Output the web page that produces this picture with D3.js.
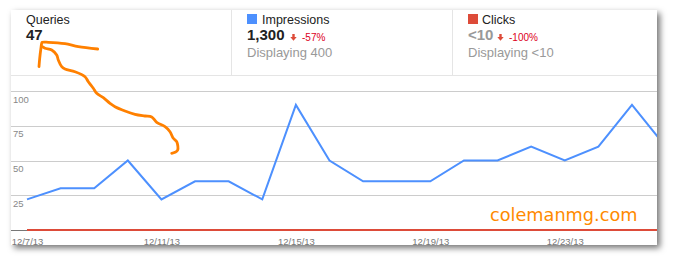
<!DOCTYPE html>
<html>
<head>
<meta charset="utf-8">
<script src="https://cdn.jsdelivr.net/npm/d3@7"></script>
<style>
  body { margin: 0; background: #fff; }
  svg { display: block; font-family: "Liberation Sans", Arial, sans-serif; }
</style>
</head>
<body>
<script>
// data
var dates = ["12/7/13", "12/8/13", "12/9/13", "12/10/13", "12/11/13", "12/12/13", "12/13/13",
             "12/14/13", "12/15/13", "12/16/13", "12/17/13", "12/18/13", "12/19/13", "12/20/13",
             "12/21/13", "12/22/13", "12/23/13", "12/24/13", "12/25/13", "12/26/13"];
var impressions = [22, 30, 30, 50, 22, 35, 35, 22, 90, 50, 35, 35, 35, 50, 50, 60, 50, 60, 90, 60];
var clicks = [0, 0, 0, 0, 0, 0, 0, 0, 0, 0, 0, 0, 0, 0, 0, 0, 0, 0, 0, 0];
var xTickLabels = ["12/7/13", "12/11/13", "12/15/13", "12/19/13", "12/23/13"];
var yTicks = [25, 50, 75, 100];

// header metrics
var queriesTotal = "47";
var impressionsTotal = "1,300";
var impressionsChange = "-57%";
var impressionsShown = "Displaying 400";
var clicksTotal = "<10";
var clicksChange = "-100%";
var clicksShown = "Displaying <10";

// hand drawn annotation strokes
var scribble1 = [[39, 66.7], [39.7, 58.3], [41, 47.7], [41.7, 43.3], [42.3, 42.3], [48.3, 42.3],
                 [65, 43.7], [78.3, 46.7], [97.7, 49]];
var scribble2 = [[42.3, 46.7], [45, 48.3], [51.7, 50], [56.7, 55], [58.3, 60], [61.7, 66.7], [65, 69],
                 [75, 71.7], [85, 76.7], [88.3, 81.7], [93.3, 88.3], [96.7, 93.3], [103.3, 97.7],
                 [110, 103.3], [115, 106.7], [125, 111], [135, 114.3], [145, 116], [151.7, 117],
                 [156.7, 122.3], [165, 126.7], [170, 131.7], [173.3, 138.3], [176.7, 141.7],
                 [177.7, 150], [175, 152.3], [171.7, 153.3]];

var width = 676, height = 265;
var panel = {x: 11, y: 10, w: 646, h: 235};
var blue = "#4d90fe", red = "#dd4b39";

var parse = d3.utcParse("%m/%d/%y");
var days = dates.map(parse);

var svg = d3.select("body").append("svg")
    .attr("width", width)
    .attr("height", height);

var defs = svg.append("defs");
var shadow = defs.append("filter").attr("id", "shadow")
    .attr("x", "-5%").attr("y", "-10%").attr("width", "110%").attr("height", "125%");
shadow.append("feDropShadow")
    .attr("dx", 3).attr("dy", 3).attr("stdDeviation", 3)
    .attr("flood-color", "#000").attr("flood-opacity", 0.55);
defs.append("clipPath").attr("id", "clip")
  .append("rect")
    .attr("x", panel.x).attr("y", panel.y)
    .attr("width", panel.w).attr("height", panel.h);

svg.append("rect")
    .attr("x", panel.x).attr("y", panel.y)
    .attr("width", panel.w).attr("height", panel.h)
    .attr("fill", "#fff")
    .attr("filter", "url(#shadow)");

// header
var head = svg.append("g");
head.append("line")
    .attr("x1", panel.x).attr("x2", panel.x + panel.w)
    .attr("y1", 75.5).attr("y2", 75.5)
    .attr("stroke", "#e5e5e5");
[231.5, 452.5].forEach(function (x) {
  head.append("line")
      .attr("x1", x).attr("x2", x)
      .attr("y1", panel.y).attr("y2", 75)
      .attr("stroke", "#e5e5e5");
});

function downArrow(x, y) {
  head.append("path")
      .attr("d", "M" + (x + 1.8) + "," + y + "h2.4v3h2l-3.2,3.8l-3.2,-3.8h2z")
      .attr("fill", red);
}

head.append("text").attr("x", 26).attr("y", 24)
    .attr("font-size", 12.5).attr("fill", "#222").text("Queries");
head.append("text").attr("x", 26).attr("y", 40)
    .attr("font-size", 15).attr("font-weight", "bold").attr("fill", "#222").text(queriesTotal);

head.append("rect").attr("x", 247).attr("y", 14).attr("width", 10).attr("height", 10).attr("fill", blue);
head.append("text").attr("x", 262).attr("y", 24)
    .attr("font-size", 12.5).attr("fill", "#222").text("Impressions");
head.append("text").attr("x", 247).attr("y", 40)
    .attr("font-size", 15).attr("font-weight", "bold").attr("fill", "#222").text(impressionsTotal);
downArrow(290.5, 34);
head.append("text").attr("x", 302).attr("y", 41)
    .attr("font-size", 10).attr("fill", "#dd0022").text(impressionsChange);
head.append("text").attr("x", 247).attr("y", 57)
    .attr("font-size", 13).attr("fill", "#999").text(impressionsShown);

head.append("rect").attr("x", 468).attr("y", 14).attr("width", 10).attr("height", 10).attr("fill", red);
head.append("text").attr("x", 482).attr("y", 24)
    .attr("font-size", 12.5).attr("fill", "#222").text("Clicks");
head.append("text").attr("x", 468).attr("y", 40)
    .attr("font-size", 15).attr("font-weight", "bold").attr("fill", "#999").text(clicksTotal);
downArrow(497.5, 34);
head.append("text").attr("x", 509).attr("y", 41)
    .attr("font-size", 10).attr("fill", "#dd0022").text(clicksChange);
head.append("text").attr("x", 468).attr("y", 57)
    .attr("font-size", 13).attr("fill", "#999").text(clicksShown);

// scales
var x = d3.scaleUtc()
    .domain([days[0], days[days.length - 1]])
    .range([27, 27 + 19 * 33.61]);
var y = d3.scaleLinear()
    .domain([0, 100])
    .range([230, 91]);

// gridlines
var grid = svg.append("g");
grid.selectAll("line")
    .data(yTicks)
    .enter().append("line")
    .attr("x1", panel.x).attr("x2", panel.x + panel.w)
    .attr("y1", function (d) { return Math.round(y(d)) + 0.5; })
    .attr("y2", function (d) { return Math.round(y(d)) + 0.5; })
    .attr("stroke", "#ccc");
grid.selectAll("text")
    .data(yTicks)
    .enter().append("text")
    .attr("x", 13)
    .attr("y", function (d) { return y(d) + 11.5; })
    .attr("font-size", 9.5)
    .attr("fill", "#888")
    .text(function (d) { return d; });

// baseline
svg.append("line")
    .attr("x1", panel.x).attr("x2", panel.x + panel.w)
    .attr("y1", y(0) + 0.5).attr("y2", y(0) + 0.5)
    .attr("stroke", "#777");

var plot = svg.append("g").attr("clip-path", "url(#clip)");

var line = d3.line()
    .x(function (d, i) { return x(days[i]); })
    .y(function (d) { return y(d); });

plot.append("path")
    .datum(clicks)
    .attr("d", line)
    .attr("fill", "none")
    .attr("stroke", red)
    .attr("stroke-width", 2);

plot.append("path")
    .datum(impressions)
    .attr("d", line)
    .attr("fill", "none")
    .attr("stroke", blue)
    .attr("stroke-width", 2)
    .attr("stroke-linejoin", "miter");

// x axis labels
var xAxis = d3.axisBottom(x)
    .tickValues(xTickLabels.map(parse))
    .tickFormat(function (d, i) { return xTickLabels[i]; })
    .tickSize(0)
    .tickPadding(0);
var gx = svg.append("g")
    .attr("transform", "translate(0,238)")
    .call(xAxis);
gx.select(".domain").remove();
gx.selectAll("text")
    .attr("font-family", "Liberation Sans, Arial, sans-serif")
    .attr("font-size", 9.5)
    .attr("fill", "#777");

// watermark
svg.append("text")
    .attr("x", 490).attr("y", 220.5)
    .attr("font-family", "DejaVu Sans, Verdana, sans-serif")
    .attr("font-size", 17.7)
    .attr("fill", "#ff8a00")
    .text("colemanmg.com");

// annotation
var scribble = d3.line().curve(d3.curveCatmullRom);
[scribble1, scribble2].forEach(function (pts) {
  svg.append("path")
      .attr("d", scribble(pts))
      .attr("fill", "none")
      .attr("stroke", "#ff8000")
      .attr("stroke-width", 2.8)
      .attr("stroke-linecap", "round")
      .attr("stroke-linejoin", "round");
});
</script>
</body>
</html>
